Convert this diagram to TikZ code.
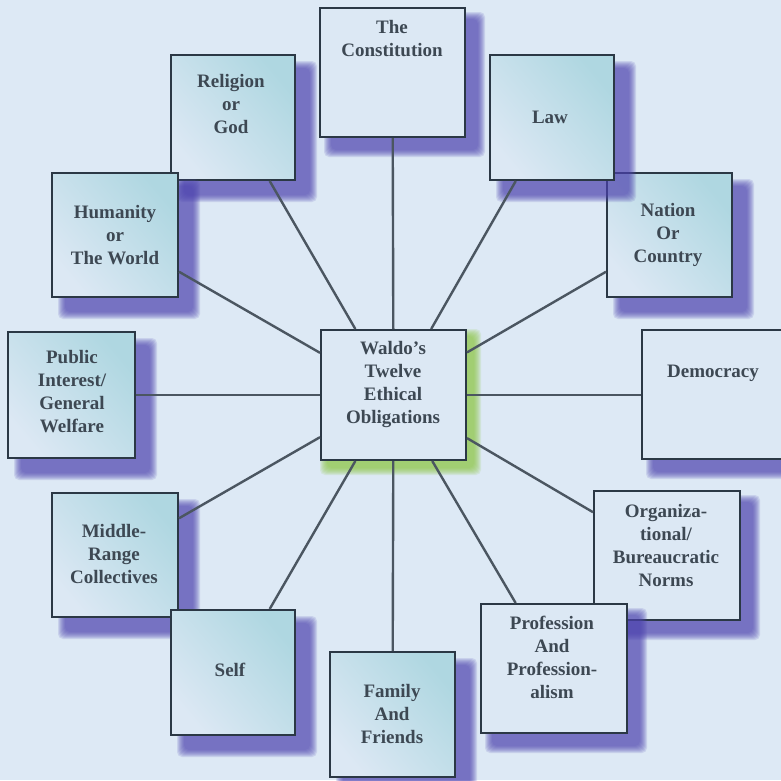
\documentclass[tikz,border=0pt]{standalone}
\usepackage{fontspec}
\setmainfont{Liberation Serif}
\definecolor{bg}{HTML}{DDE9F5}
\definecolor{boxlt}{HTML}{DCE8F4}
\definecolor{boxcy}{HTML}{AFD7E1}
\definecolor{edge}{HTML}{2B3845}
\definecolor{shd}{HTML}{4E44B0}
\definecolor{glow}{HTML}{8CC63F}
\definecolor{txt}{HTML}{3D4853}
\definecolor{conn}{HTML}{4B5661}
\tikzset{
  plainbox/.style={draw=edge, line width=2pt, fill=boxlt, inner sep=0pt},
  gradbox/.style={draw=edge, line width=2pt, inner sep=0pt, top color=boxcy, bottom color=boxlt, shading angle=-50},
  lbl/.style={text=txt, align=center, font=\fontsize{19}{23}\selectfont\bfseries, inner sep=0pt},
  link/.style={draw=conn, line width=2.4pt}
}
% #1 name, #2 x1, #3 y1, #4 x2, #5 y2, #6 box style, #7 shadow colour, #8 shadow offset
\newcommand\obox[8]{%
  \foreach \i in {0,...,7}{
    \pgfmathsetmacro\sa{#8-8+\i}\pgfmathsetmacro\sb{#8+8-\i}
    \fill[#7, opacity=0.14, rounded corners=5pt] (#2+\sa,#3+\sa) rectangle (#4+\sb,#5+\sb);
  }
  \pgfmathsetmacro\bw{#4-#2}\pgfmathsetmacro\bh{#5-#3}
  \pgfmathsetmacro\bx{(#2+#4)/2}\pgfmathsetmacro\by{(#3+#5)/2}
  \node[#6, minimum width=\bw pt, minimum height=\bh pt] (#1) at (\bx,\by) {};
}
\begin{document}
\begin{tikzpicture}[x=1pt,y=-1pt]
\useasboundingbox (0,0) rectangle (781,780);
\fill[bg] (0,0) rectangle (781,780);
\clip (0,0) rectangle (781,780);

\obox{rel}{171}{55}{295}{180}{gradbox}{shd}{14}
\obox{hum}{52}{173}{178}{297}{gradbox}{shd}{14}
\obox{nat}{607}{173}{732}{297}{gradbox}{shd}{14}
\obox{law}{490}{55}{614}{180}{gradbox}{shd}{14}
\obox{con}{320}{8}{465}{137}{plainbox}{shd}{12}
\obox{pub}{8}{332}{135}{458}{gradbox}{shd}{14}
\obox{dem}{642}{330}{800}{459}{plainbox}{shd}{12}
\obox{mid}{52}{493}{178}{617}{gradbox}{shd}{14}
\obox{slf}{171}{610}{295}{735}{gradbox}{shd}{14}
\obox{org}{594}{491}{740}{620}{plainbox}{shd}{12}
\obox{pro}{481}{604}{627}{733}{plainbox}{shd}{12}
\obox{fam}{330}{652}{455}{777}{gradbox}{shd}{14}
\obox{ctr}{321}{330}{466}{460}{plainbox}{glow}{7}

\foreach \n in {con,rel,law,hum,nat,pub,mid,slf,fam,pro,org}{
  \draw[link] (ctr) -- (\n);
}
\draw[link] (ctr.east) -- (dem.west |- ctr.east);

\node[lbl] (tctr) at (393,384) {Waldo's\\Twelve\\Ethical\\Obligations};
\node[lbl] (tcon) at (392,39) {The\\Constitution};
\node[lbl] (trel) at (231,104) {Religion\\or\\God};
\node[lbl] (tlaw) at (550,117) {Law};
\node[lbl] (thum) at (115,235) {Humanity\\or\\The World};
\node[lbl] (tnat) at (668,235) {Nation\\Or\\Country};
\node[lbl] (tpub) at (72,392) {Public\\Interest/\\General\\Welfare};
\node[lbl] (tdem) at (713,373) {Democracy};
\node[lbl] (tmid) at (114,554) {Middle-\\Range\\Collectives};
\node[lbl] (torg) at (666,545) {Organiza-\\tional/\\Bureaucratic\\Norms};
\node[lbl] (tslf) at (230,670) {Self};
\node[lbl] (tpro) at (552,657) {Profession\\And\\Profession-\\alism};
\node[lbl] (tfam) at (392,714) {Family\\And\\Friends};
\end{tikzpicture}
\end{document}
